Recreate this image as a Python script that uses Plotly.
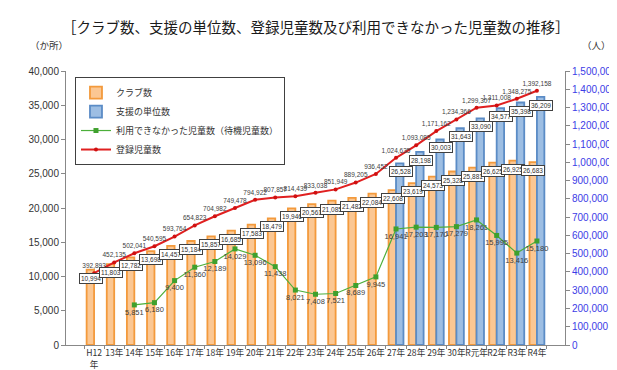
import plotly.graph_objects as go

categories = ["H12<br>年", "13年", "14年", "15年", "16年", "17年", "18年", "19年", "20年",
              "21年", "22年", "23年", "24年", "25年", "26年", "27年", "28年", "29年",
              "30年", "R元年", "R2年", "R3年", "R4年"]
clubs = [10994, 11803, 12782, 13698, 14457, 15184, 15857, 16685, 17583, 18479, 19946,
         20561, 21085, 21482, 22084, 22608, 23619, 24573, 25328, 25881, 26625, 26925, 26683]
units = [None] * 15 + [26528, 28198, 30003, 31643, 33090, 34577, 35398, 36209]
waiting = [None, None, 5851, 6180, 9400, 11360, 12189, 14029, 13096, 11438, 8021, 7408,
           7521, 8689, 9945, 16941, 17203, 17170, 17279, 18261, 15995, 13416, 15180]
registered = [392893, 452135, 502041, 540595, 593764, 654823, 704982, 749478, 794922,
              807857, 814439, 833038, 851949, 889205, 936452, 1024635, 1093085, 1171162,
              1234366, 1299307, 1311008, 1348275, 1392158]

FONT = "Noto Sans CJK JP"
NUMFONT = "Liberation Sans"

fig = go.Figure()
fig.add_trace(go.Bar(
    x=categories, y=clubs, name="クラブ数",
    marker=dict(color="#FBC793", line=dict(color="#F39A3C", width=1.8)),
    yaxis="y"))
fig.add_trace(go.Bar(
    x=categories, y=units, name="支援の単位数",
    marker=dict(color="#9DBEE3", line=dict(color="#5B8CC6", width=1.8)),
    yaxis="y"))
fig.add_trace(go.Scatter(
    x=categories, y=waiting, name="利用できなかった児童数（待機児童数）",
    mode="lines+markers+text", line=dict(color="#4CAF3A", width=1.2),
    marker=dict(symbol="square", size=5, color="#3FA02E"),
    text=[f"{v:,}" if v is not None else "" for v in waiting],
    textposition="bottom center",
    textfont=dict(family=NUMFONT, size=7.5, color="#404040"),
    yaxis="y"))
fig.add_trace(go.Scatter(
    x=categories, y=registered, name="登録児童数",
    mode="lines+markers+text", line=dict(color="#E02020", width=2),
    marker=dict(symbol="circle", size=4, color="#D01010"),
    text=[f"{v:,}" for v in registered],
    textposition="top center",
    textfont=dict(family=NUMFONT, size=6.5, color="#404040"),
    yaxis="y2"))

annotations = []
box_style = dict(xref="x", yref="y", showarrow=False, yanchor="top",
                 font=dict(family=NUMFONT, size=6.5, color="#303030"),
                 bgcolor="white", bordercolor="#404040", borderwidth=1, borderpad=1)
for c, v in zip(categories, clubs):
    annotations.append(dict(x=c, y=v, text=f"{v:,}", xshift=-3.5, yshift=-3, **box_style))
for c, v in zip(categories, units):
    if v is not None:
        annotations.append(dict(x=c, y=v, text=f"{v:,}", xshift=4.5, yshift=-3, **box_style))

annotations.append(dict(xref="paper", yref="paper", x=0.5, y=1.0, yshift=45,
                        xanchor="center", yanchor="middle", showarrow=False,
                        text="［クラブ数、支援の単位数、登録児童数及び利用できなかった児童数の推移］",
                        font=dict(family=FONT, size=14.5, color="#1a1a1a")))
annotations.append(dict(xref="paper", yref="paper", x=0, y=1.0, xshift=-38, yshift=26,
                        xanchor="left", yanchor="middle", showarrow=False,
                        text="（か所）", font=dict(family=FONT, size=9.5, color="#333333")))
annotations.append(dict(xref="paper", yref="paper", x=1, y=1.0, xshift=48, yshift=26,
                        xanchor="right", yanchor="middle", showarrow=False,
                        text="（人）", font=dict(family=FONT, size=9.5, color="#333333")))

fig.update_layout(
    width=617, height=370,
    margin=dict(l=58, r=60, t=63, b=33),
    paper_bgcolor="white", plot_bgcolor="white",
    barmode="group", bargap=0.26, bargroupgap=0.0,
    font=dict(family=FONT, size=10, color="#333333"),
    showlegend=True,
    legend=dict(x=0.018, y=0.978, xanchor="left", yanchor="top",
                bgcolor="white", bordercolor="#404040", borderwidth=1,
                font=dict(family=FONT, size=9, color="#333333"),
                tracegroupgap=0, itemwidth=30),
    xaxis=dict(type="category", showline=True, linecolor="#888888", ticks="outside",
               tickson="boundaries", ticklen=3, tickcolor="#888888", tickangle=0,
               automargin=False,
               tickfont=dict(family=FONT, size=8.6, color="#333333"), showgrid=False),
    yaxis=dict(range=[0, 40000], dtick=5000, tickformat=",", showline=True,
               linecolor="#888888", ticks="outside", ticklen=4, tickcolor="#888888",
               showgrid=False, zeroline=False, automargin=False,
               tickfont=dict(family=NUMFONT, size=10, color="#333333")),
    yaxis2=dict(range=[0, 1500000], dtick=100000, tickformat=",", overlaying="y",
                side="right", showline=True, linecolor="#888888", ticks="outside",
                ticklen=4, tickcolor="#888888", showgrid=False, zeroline=False,
                automargin=False,
                tickfont=dict(family=NUMFONT, size=10, color="#3C3CE6")),
    annotations=annotations,
)

fig.write_html("out.html")
